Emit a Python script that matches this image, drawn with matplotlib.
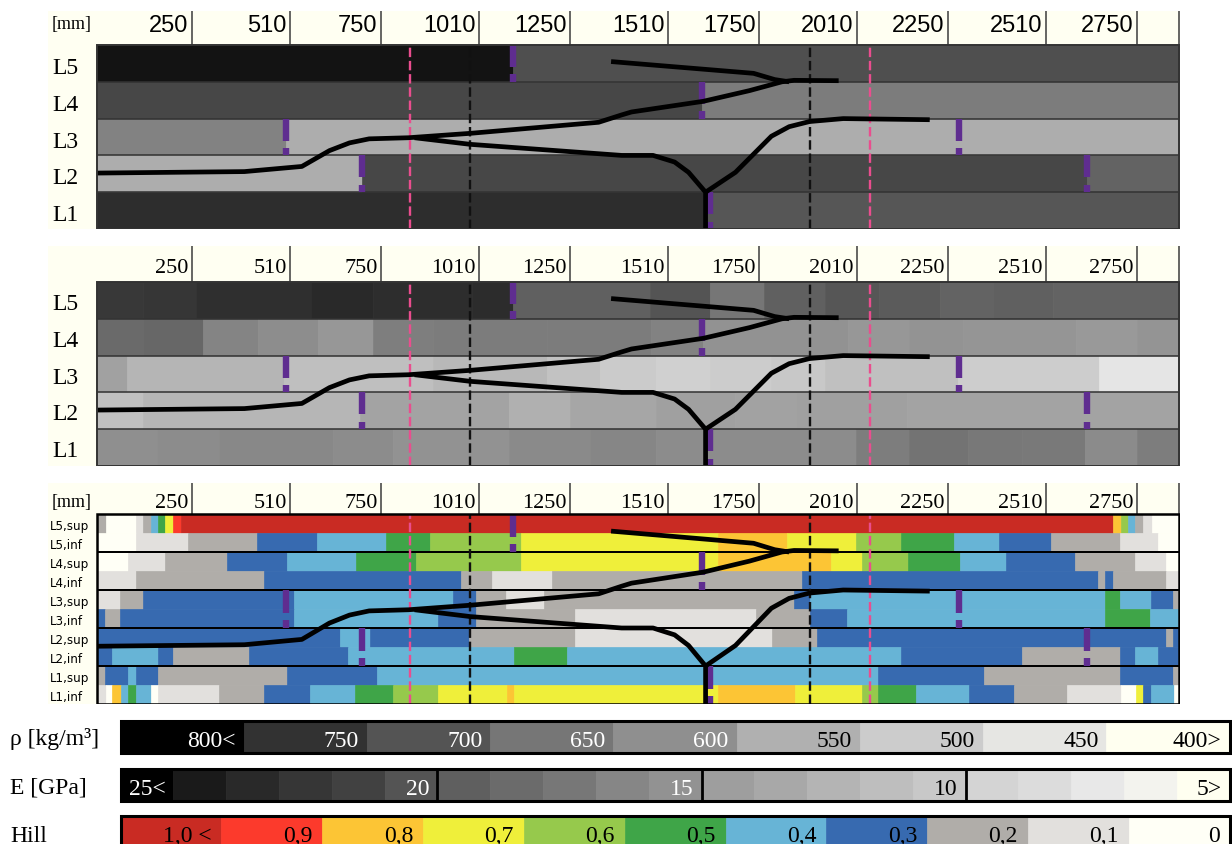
import numpy as np
import matplotlib
matplotlib.use("Agg")
import matplotlib.pyplot as plt
from matplotlib.colors import LinearSegmentedColormap, ListedColormap, BoundaryNorm, Normalize
from matplotlib.patches import Rectangle

# ------------------------------------------------------------------ data
LAYERS = ["L5", "L4", "L3", "L2", "L1"]
SUBLAYERS = ["L5,sup", "L5,inf", "L4,sup", "L4,inf", "L3,sup", "L3,inf",
             "L2,sup", "L2,inf", "L1,sup", "L1,inf"]
POSITION_TICKS = [250, 510, 750, 1010, 1250, 1510, 1750, 2010, 2250, 2510, 2750]
BEAM_LENGTH = 2862

# density per lamella [kg/m3]
rho_edges = {
    "L5": [0, 1100, 2862],
    "L4": [0, 1601, 2862],
    "L3": [0, 500, 2862],
    "L2": [0, 701, 2620, 2862],
    "L1": [0, 1610, 2862],
}
rho_values = {
    "L5": [781, 709],
    "L4": [720, 640],
    "L3": [627, 555],
    "L2": [555, 720, 679],
    "L1": [756, 697],
}

# modulus of elasticity per board segment [GPa]
e_edges = {
    "L5": [0, 121, 261, 565, 729, 991, 1100, 1462, 1623, 1765, 1926, 2068, 2229, 2371, 2528, 2862],
    "L4": [0, 121, 280, 425, 584, 729, 888, 1191, 1465, 1604, 1988, 2149, 2290, 2590, 2751, 2862],
    "L3": [0, 79, 495, 888, 1191, 1331, 1480, 1623, 1784, 1926, 2277, 2651, 2862],
    "L2": [0, 121, 696, 1089, 1252, 1480, 1689, 1850, 2144, 2862],
    "L1": [0, 158, 322, 625, 784, 1089, 1304, 1480, 2007, 2149, 2305, 2448, 2613, 2751, 2862],
}
e_values = {
    "L5": [21.8, 22.0, 22.5, 23.0, 22.7, 22.8, 18.9, 20.0, 17.1, 18.9, 19.9, 19.4, 18.6, 18.9, 18.6],
    "L4": [18.1, 18.3, 16.1, 15.4, 14.6, 16.5, 16.7, 16.7, 16.3, 15.0, 14.6, 14.9, 14.7, 14.4, 14.8],
    "L3": [13.7, 11.9, 10.9, 11.6, 10.6, 9.8, 9.3, 9.7, 10.0, 10.8, 9.6, 7.3],
    "L2": [10.8, 11.8, 13.5, 12.3, 13.2, 13.8, 13.6, 13.8, 13.5],
    "L1": [15.3, 15.5, 15.8, 15.5, 15.0, 15.7, 16.0, 15.5, 16.6, 17.3, 16.9, 16.8, 15.6, 16.6],
}

# Hill index on the upper / lower face of every lamella
hill_edges = {
    "L5,sup": [0, 24, 102, 122, 142, 162, 181, 202, 222, 2688, 2709, 2728, 2747, 2768, 2790, 2862],
    "L5,inf": [0, 102, 241, 422, 583, 764, 882, 1123, 1644, 1826, 2007, 2127, 2266, 2386, 2525, 2707, 2808, 2862],
    "L4,sup": [0, 81, 181, 343, 503, 684, 843, 1123, 1644, 1943, 2025, 2146, 2284, 2405, 2586, 2746, 2829, 2862],
    "L4,inf": [0, 102, 442, 963, 1044, 1203, 1865, 2647, 2667, 2688, 2828, 2862],
    "L3,sup": [0, 60, 122, 522, 942, 1003, 1081, 1183, 1844, 1886, 2667, 2707, 2788, 2846, 2862],
    "L3,inf": [0, 21, 60, 522, 903, 1003, 1264, 1744, 1886, 1985, 2667, 2787, 2862],
    "L2,sup": [0, 642, 722, 985, 1264, 1786, 1905, 2828, 2846, 2862],
    "L2,inf": [0, 40, 162, 202, 402, 663, 1104, 1243, 2127, 2447, 2707, 2747, 2808, 2862],
    "L1,sup": [0, 21, 81, 102, 162, 503, 742, 2066, 2346, 2707, 2846, 2862],
    "L1,inf": [0, 24, 40, 63, 81, 102, 144, 162, 322, 441, 563, 682, 784, 903, 1084, 1104,
               1644, 1846, 2025, 2066, 2166, 2306, 2426, 2567, 2710, 2748, 2767, 2788, 2850, 2862],
}
hill_values = {
    "L5,sup": [0.2, 0.0, 0.1, 0.2, 0.4, 0.5, 0.7, 0.9, 1.0, 0.8, 0.6, 0.4, 0.2, 0.1, 0.0],
    "L5,inf": [0.0, 0.1, 0.2, 0.3, 0.4, 0.5, 0.6, 0.7, 0.8, 0.7, 0.6, 0.5, 0.4, 0.3, 0.2, 0.1, 0.0],
    "L4,sup": [0.0, 0.1, 0.2, 0.3, 0.4, 0.5, 0.6, 0.7, 0.8, 0.7, 0.6, 0.5, 0.4, 0.3, 0.2, 0.1, 0.0],
    "L4,inf": [0.1, 0.2, 0.3, 0.2, 0.1, 0.2, 0.3, 0.2, 0.3, 0.2, 0.1],
    "L3,sup": [0.1, 0.2, 0.3, 0.4, 0.3, 0.2, 0.1, 0.2, 0.3, 0.4, 0.5, 0.4, 0.3, 0.2],
    "L3,inf": [0.3, 0.2, 0.3, 0.4, 0.3, 0.2, 0.1, 0.2, 0.3, 0.4, 0.5, 0.4],
    "L2,sup": [0.3, 0.4, 0.3, 0.2, 0.1, 0.2, 0.3, 0.2, 0.3],
    "L2,inf": [0.3, 0.4, 0.3, 0.2, 0.3, 0.4, 0.5, 0.4, 0.3, 0.2, 0.3, 0.4, 0.3],
    "L1,sup": [0.2, 0.3, 0.4, 0.3, 0.2, 0.3, 0.4, 0.3, 0.2, 0.3, 0.2],
    "L1,inf": [0.1, 0.0, 0.8, 0.4, 0.5, 0.4, 0.0, 0.1, 0.2, 0.3, 0.4, 0.5, 0.6, 0.7, 0.8,
               0.7, 0.8, 0.7, 0.6, 0.5, 0.4, 0.3, 0.2, 0.1, 0.0, 0.7, 0.3, 0.4, 0.0],
}

# finger joints (position along the beam, lamella)
joint_mm = [1100, 1601, 500, 2280, 701, 2620, 1623]
joint_layer = ["L5", "L4", "L3", "L3", "L2", "L2", "L1"]

# load / support lines
pink_lines_mm = [827, 2046]
black_lines_mm = [988, 1887]

# crack paths (x in mm, height in lamella units from the bottom)
crack_main_x = [0, 390, 542, 615, 668, 720, 824, 988, 1327, 1388, 1414, 1604, 1726, 1812, 1844, 1962]
crack_main_y = [1.52, 1.56, 1.70, 2.13, 2.34, 2.45, 2.48, 2.60, 2.90, 3.10, 3.18, 3.47, 3.76, 4.00, 4.04, 4.03]
crack_down_x = [840, 988, 1388, 1471, 1528, 1565, 1610, 1610]
crack_down_y = [2.48, 2.30, 2.00, 2.00, 1.82, 1.54, 1.00, 0.00]
crack_up_x = [1610, 1689, 1784, 1831, 1885, 1974, 2203]
crack_up_y = [1.00, 1.54, 2.52, 2.78, 2.92, 3.00, 2.97]
crack_top_x = [1360, 1737, 1793, 1831]
crack_top_y = [4.55, 4.23, 4.06, 4.00]

# colour keys
rho_levels = [800, 750, 700, 650, 600, 550, 500, 450, 400]
rho_labels = ["800<", "750", "700", "650", "600", "550", "500", "450", "400>"]
rho_grays = ["#000000", "#333333", "#555555", "#777777", "#8f8f8f",
             "#b0b0b0", "#cccccc", "#e6e6e3", "#fffff0"]

e_levels = list(range(25, 4, -1))
e_labels = {25: "25<", 20: "20", 15: "15", 10: "10", 5: "5>"}
e_grays = ["#000000", "#1c1c1c", "#2a2a2a", "#363636", "#414141", "#555555", "#5f5f5f",
           "#6b6b6b", "#777777", "#868686", "#929292", "#9e9e9e", "#a8a8a8", "#b4b4b4",
           "#bebebe", "#c8c8c8", "#d4d4d4", "#dcdcdc", "#e8e8e8", "#f2f2ee", "#fffff0"]

hill_levels = [1.0, 0.9, 0.8, 0.7, 0.6, 0.5, 0.4, 0.3, 0.2, 0.1, 0.0]
hill_labels = ["1,0 <", "0,9", "0,8", "0,7", "0,6", "0,5", "0,4", "0,3", "0,2", "0,1", "0"]
hill_colors = ["#c92b23", "#fc3a2c", "#fcc535", "#efef3a", "#96c94c", "#3fa548",
               "#67b4d6", "#376ab0", "#b0ada9", "#e2e0dd", "#fffff6"]

# ------------------------------------------------------------------ scales
rho_norm = Normalize(400, 800)
rho_cmap = LinearSegmentedColormap.from_list(
    "rho", [((v - 400) / 400, c) for v, c in sorted(zip(rho_levels, rho_grays))])
e_norm = Normalize(5, 25)
e_cmap = LinearSegmentedColormap.from_list(
    "moe", [((v - 5) / 20, c) for v, c in sorted(zip(e_levels, e_grays))])
hill_cmap = ListedColormap(hill_colors[::-1])
hill_norm = BoundaryNorm(np.linspace(-0.05, 1.05, 12), 11)

# ------------------------------------------------------------------ layout
W, H = 1232, 845
SERIF = "Liberation Serif"
SANS = "Liberation Sans"
CREAM = "#fffff2"
PX0, PX_PER_MM = 97.0, 0.378          # header/body pixel mapping
XLIM = ((48 - PX0) / PX_PER_MM, (1180 - PX0) / PX_PER_MM)
LABEL_X = (52 - PX0) / PX_PER_MM

fig = plt.figure(figsize=(W / 100, H / 100), dpi=100)
fig.patch.set_facecolor("white")


def px_axes(left, top, right, bottom):
    return fig.add_axes([left / W, 1 - bottom / H, (right - left) / W, (bottom - top) / H])


def panel(top, body_top, bottom):
    ax = px_axes(48, top, 1180, bottom)
    unit = (bottom - body_top) / 5.0
    hdr = (body_top - top) / unit
    ax.set_xlim(*XLIM)
    ax.set_ylim(0, 5 + hdr)
    ax.set_facecolor(CREAM)
    for s in ax.spines.values():
        s.set_visible(False)
    ax.set_xticks([])
    ax.set_yticks([])
    return ax, unit, hdr


def header(ax, hdr, unit, base_px, family, size, mm_label=None):
    ax.vlines(POSITION_TICKS + [BEAM_LENGTH], 5, 5 + hdr, color="#3c3c3c", lw=1.1, zorder=2)
    y = 5 + base_px / unit
    for t in POSITION_TICKS:
        ax.text(t - 8, y, str(t), ha="right", va="baseline", family=family, size=size)
    if mm_label is not None:
        ax.text(LABEL_X, 5 + mm_label / unit, "[mm]", ha="left", va="baseline",
                family=SERIF, size=13)


def cells(ax, y0, h, edges, values, cmap, norm):
    edges = np.asarray(edges, float)
    colors = cmap(norm(np.asarray(values, float)))
    ax.barh(np.full(len(values), y0 + h / 2), np.diff(edges), left=edges[:-1], height=h,
            color=colors, edgecolor=colors, linewidth=0.5, zorder=1)


def overlays(ax, frame_color, frame_lw):
    ax.hlines([1, 2, 3, 4], 0, BEAM_LENGTH, color=frame_color, lw=frame_lw * 0.8, zorder=2)
    ax.add_patch(Rectangle((0, 0), BEAM_LENGTH, 5, fill=False, ec=frame_color, lw=frame_lw, zorder=6))
    ax.vlines(pink_lines_mm, 0, 5, colors="#ea4d8e", lw=1.7, linestyles=(0, (4.0, 1.6)), zorder=3)
    ax.vlines(black_lines_mm, 0, 5, colors="#111111", lw=1.7, linestyles=(0, (4.0, 1.6)), zorder=3)
    for x, lay in zip(joint_mm, joint_layer):
        k = 5 - LAYERS.index(lay)
        ax.plot([x, x], [k, k - 0.6], color="#5f2d90", lw=4.6, solid_capstyle="butt", zorder=4)
        ax.plot([x, x], [k - 0.8, k - 1.0], color="#5f2d90", lw=4.6, solid_capstyle="butt", zorder=4)
    for xs, ys in [(crack_main_x, crack_main_y), (crack_down_x, crack_down_y),
                   (crack_up_x, crack_up_y), (crack_top_x, crack_top_y)]:
        ax.plot(xs, ys, color="black", lw=3.4, solid_joinstyle="round",
                solid_capstyle="butt", zorder=5)


# --- panel 1: density
ax1, u1, h1 = panel(12, 46, 230)
for i, lay in enumerate(LAYERS):
    cells(ax1, 4 - i, 1.0, rho_edges[lay], rho_values[lay], rho_cmap, rho_norm)
    ax1.text(LABEL_X, 4.5 - i - 9.5 / u1, lay, ha="left", va="baseline", family=SERIF, size=17)
header(ax1, h1, u1, 46 - 31.7, SANS, 17, mm_label=46 - 28.5)
overlays(ax1, "#333333", 1.4)

# --- panel 2: modulus of elasticity
ax2, u2, h2 = panel(247, 283, 467)
for i, lay in enumerate(LAYERS):
    cells(ax2, 4 - i, 1.0, e_edges[lay], e_values[lay], e_cmap, e_norm)
    ax2.text(LABEL_X, 4.5 - i - 8.6 / u2, lay, ha="left", va="baseline", family=SERIF, size=17)
header(ax2, h2, u2, 283 - 273.3, SERIF, 16)
overlays(ax2, "#333333", 1.4)

# --- panel 3: Hill index on both faces of each lamella
ax3, u3, h3 = panel(484, 515, 705)
for i, sub in enumerate(SUBLAYERS):
    y0 = 4.5 - 0.5 * i
    cells(ax3, y0, 0.5, hill_edges[sub], hill_values[sub], hill_cmap, hill_norm)
    ax3.text((50 - PX0) / PX_PER_MM, y0 + 0.25 - 5.5 / u3, sub, ha="left", va="baseline",
             family="DejaVu Sans", size=8.6)
header(ax3, h3, u3, 515 - 508.3, SERIF, 16, mm_label=515 - 506.7)
overlays(ax3, "#000000", 1.8)


# --- colour keys
def key_bar(top, bottom, colors, labels, text_colors, base_frac, margin_px):
    ax = px_axes(120.6, top, 1229.6, bottom)
    n = len(colors)
    ax.set_xlim(0, n)
    ax.set_ylim(0, 1)
    ax.axis("off")
    ax.bar(np.arange(n), 1, width=1, align="edge", color=colors, edgecolor=colors, lw=0.5)
    cell_px = (1229.6 - 120.6) / n
    for i, (lab, tc) in enumerate(zip(labels, text_colors)):
        if lab:
            ax.text(i + 1 - margin_px / cell_px, base_frac, lab, ha="right", va="baseline",
                    family=SERIF, size=17, color=tc)
    ax.add_patch(Rectangle((0, 0), n, 1, fill=False, ec="black", lw=2.2, clip_on=False))
    return ax


def text_color(c):
    r, g, b = c[:3]
    return "white" if 0.299 * r + 0.587 * g + 0.114 * b < 0.6 else "black"


rho_cols = rho_cmap(rho_norm(np.array(rho_levels, float)))
key_bar(721.7, 754.3, rho_cols, rho_labels, [text_color(c) for c in rho_cols],
        (754.3 - 746.7) / 32.6, 8)

e_cols = e_cmap(e_norm(np.array(e_levels, float)))
ax_e = key_bar(770, 801.7, e_cols, [e_labels.get(v, "") for v in e_levels],
               [text_color(c) for c in e_cols], (801.7 - 795) / 31.7, 8)
for v in (20, 15, 10):
    xb = e_levels.index(v) + 1
    ax_e.plot([xb, xb], [0, 1], color="black", lw=2)

hill_cols = hill_cmap(hill_norm(np.array(hill_levels, float)))
key_bar(817, 852, hill_cols, hill_labels, ["black"] * len(hill_levels),
        (852 - 841.7) / 35, 10)

fig.text(10 / W, 1 - 745 / H, "ρ [kg/m³]", family=SERIF, size=17, va="baseline")
fig.text(10 / W, 1 - 794 / H, "E [GPa]", family=SERIF, size=17, va="baseline")
fig.text(10 / W, 1 - 842 / H, "Hill", family=SERIF, size=17, va="baseline")

fig.savefig("out.png", dpi=100)
